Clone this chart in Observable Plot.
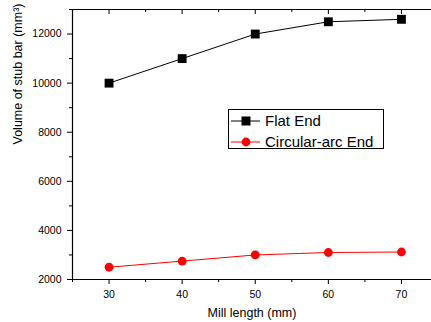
<!DOCTYPE html>
<html>
<head>
<meta charset="utf-8">
<script src="https://cdn.jsdelivr.net/npm/d3@7"></script>
<script src="https://cdn.jsdelivr.net/npm/@observablehq/plot@0.6"></script>
<style>
  html, body { margin: 0; padding: 0; background: #fff; overflow: hidden; }
  #wrap { position: relative; width: 431px; height: 322px; font-family: "Liberation Sans", Arial, sans-serif; }
  #legend { position: absolute; left: 228px; top: 109px; }
</style>
</head>
<body>
<div id="wrap"></div>
<script>
const millLength = [30, 40, 50, 60, 70];
const flatEnd = [10000, 11000, 12000, 12500, 12600];
const circularArcEnd = [2500, 2750, 3000, 3100, 3120];
const seriesNames = ["Flat End", "Circular-arc End"];
const seriesColors = ["#000000", "#ff0000"];
const xMajorTicks = [30, 40, 50, 60, 70];
const xMinorTicks = [25, 35, 45, 55, 65, 75];
const yMajorTicks = [2000, 4000, 6000, 8000, 10000, 12000];
const yMinorTicks = [3000, 5000, 7000, 9000, 11000, 13000];
const xLabel = "Mill length (mm)";
const yLabel = "Volume of stub bar (mm\u00B3)";

const flatData = millLength.map((x, i) => ({x, y: flatEnd[i]}));
const arcData = millLength.map((x, i) => ({x, y: circularArcEnd[i]}));

const chart = Plot.plot({
  width: 431,
  height: 322,
  marginTop: 9,
  marginBottom: 43,
  marginLeft: 72,
  marginRight: 0,
  style: {fontFamily: "Liberation Sans, Arial, sans-serif", fontSize: "10px", color: "#000", background: "#fff", overflow: "hidden"},
  x: {domain: [25, 75], range: [72, 437.5]},
  y: {domain: [2000, 13000], range: [279, 9]},
  marks: [
    Plot.ruleX([25], {stroke: "#000", strokeWidth: 1.2}),
    Plot.ruleY([2000], {stroke: "#000", strokeWidth: 1.2}),
    Plot.ruleY([13000], {stroke: "#000", strokeWidth: 1.2}),
    Plot.axisX(xMajorTicks, {anchor: "bottom", tickSize: 5, tickPadding: 6, fontSize: 10.5, tickFormat: d => String(d), label: null}),
    Plot.axisX(xMinorTicks, {anchor: "bottom", tickSize: 3, text: null, label: null}),
    Plot.axisX(xMajorTicks, {anchor: "top", tickSize: -4, text: null, label: null}),
    Plot.axisX(xMinorTicks, {anchor: "top", tickSize: -2, text: null, label: null}),
    Plot.axisY(yMajorTicks, {anchor: "left", tickSize: 5, tickPadding: 6, fontSize: 10.5, tickFormat: d => String(d), label: null}),
    Plot.axisY(yMinorTicks, {anchor: "left", tickSize: 3, text: null, label: null}),
    Plot.text([xLabel], {frameAnchor: "bottom", dy: 33, fontSize: 12.5, lineAnchor: "middle"}),
    Plot.text([yLabel], {frameAnchor: "left", dx: -55, rotate: -90, fontSize: 12.5, lineAnchor: "middle"}),
    Plot.line(flatData, {x: "x", y: "y", stroke: seriesColors[0], strokeWidth: 1}),
    Plot.dot(flatData, {x: "x", y: "y", symbol: "square", r: 5, fill: seriesColors[0], stroke: "none"}),
    Plot.line(arcData, {x: "x", y: "y", stroke: seriesColors[1], strokeWidth: 1}),
    Plot.dot(arcData, {x: "x", y: "y", symbol: "circle", r: 4.4, fill: seriesColors[1], stroke: "none"})
  ]
});
document.getElementById("wrap").appendChild(chart);

// Legend
const lg = d3.select("#wrap").append("svg").attr("id", "legend")
  .attr("width", 156).attr("height", 40);
lg.append("rect").attr("x", 0.5).attr("y", 0.5).attr("width", 155).attr("height", 39)
  .attr("fill", "#fff").attr("stroke", "#000").attr("stroke-width", 1);
seriesNames.forEach((name, i) => {
  const cy = 12 + i * 21;
  lg.append("line").attr("x1", 3).attr("x2", 32).attr("y1", cy).attr("y2", cy)
    .attr("stroke", seriesColors[i]).attr("stroke-width", 1);
  if (i === 0) {
    lg.append("rect").attr("x", 18 - 4.5).attr("y", cy - 4.5).attr("width", 9).attr("height", 9).attr("fill", seriesColors[i]);
  } else {
    lg.append("circle").attr("cx", 18).attr("cy", cy).attr("r", 4.4).attr("fill", seriesColors[i]);
  }
  lg.append("text").attr("x", 37).attr("y", cy).attr("dy", "0.35em")
    .attr("font-family", "Liberation Sans, Arial, sans-serif").attr("font-size", 15)
    .text(name);
});
</script>
</body>
</html>
